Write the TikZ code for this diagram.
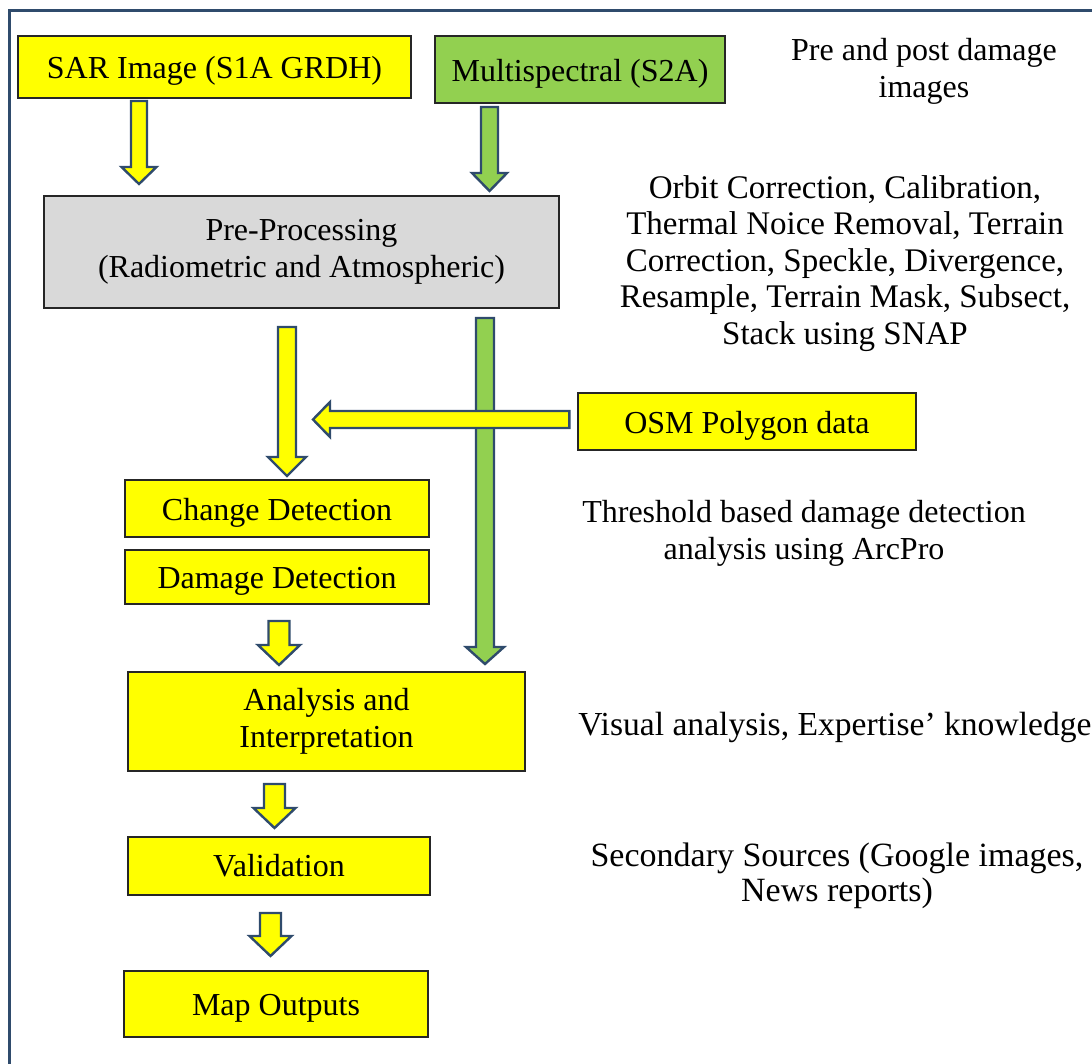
\documentclass[tikz,border=0pt]{standalone}
\usepackage{fontspec}
\setmainfont{Liberation Serif}
\usepackage{xcolor}
\usepackage{tikz}
\usetikzlibrary{calc,positioning}

\definecolor{boxyellow}{HTML}{FFFF00}
\definecolor{boxgreen}{HTML}{92D050}
\definecolor{boxgray}{HTML}{D9D9D9}
\definecolor{arrowline}{HTML}{2F4B6C}

\tikzset{
	box/.style={draw=black!85, line width=0.6pt, inner sep=0pt, align=center},
	lowtext/.style={execute at begin node={\rule{0pt}{15pt}}},
	note/.style={align=center, inner sep=0pt},
	bignote/.style={note, font=\fontsize{16.5}{18.3}\selectfont},
	blk/.style={draw=arrowline, line width=1.2pt, line join=miter},
	frame/.style={draw=arrowline, line width=1.5pt}
}

% block arrow pointing down: fill, start, tip, shaft half width, head half width, head length (px)
\newcommand{\downblk}[6]{%
	\draw[blk, fill=#1] let \p1=(#2), \p2=(#3) in
		(\x2-#4*0.5pt,\y1) -- (\x2+#4*0.5pt,\y1) -- (\x2+#4*0.5pt,\y2+#6*0.5pt)
		-- (\x2+#5*0.5pt,\y2+#6*0.5pt) -- (\x2,\y2) -- (\x2-#5*0.5pt,\y2+#6*0.5pt)
		-- (\x2-#4*0.5pt,\y2+#6*0.5pt) -- cycle;}
% block arrow pointing left
\newcommand{\leftblk}[6]{%
	\draw[blk, fill=#1] let \p1=(#2), \p2=(#3) in
		(\x1,\y2+#4*0.5pt) -- (\x2+#6*0.5pt,\y2+#4*0.5pt) -- (\x2+#6*0.5pt,\y2+#5*0.5pt)
		-- (\x2,\y2) -- (\x2+#6*0.5pt,\y2-#5*0.5pt) -- (\x2+#6*0.5pt,\y2-#4*0.5pt)
		-- (\x1,\y2-#4*0.5pt) -- cycle;}

\begin{document}
\begin{tikzpicture}[x=0.5pt, y=-0.5pt, font=\fontsize{16}{18.4}\selectfont]
	\useasboundingbox (0,0) rectangle (1092,1064);
	\begin{scope}
		\clip (0,0) rectangle (1092,1064);
		\draw[frame] (9,11) rectangle (1110,1090);
	\end{scope}
	%
	\node[box, lowtext, fill=boxyellow, minimum width=196.5pt, minimum height=31pt] (sar) at (214.5,67) {SAR Image (S1A GRDH)};
	\node[box, lowtext, fill=boxgreen, minimum width=145pt, minimum height=33.5pt] (msp) at (580,69.5) {Multispectral (S2A)};
	\node[box, fill=boxgray, minimum width=257.5pt, minimum height=56pt] (pre) at (301.5,252) {Pre-Processing\\(Radiometric and Atmospheric)};
	\node[box, lowtext, fill=boxyellow, minimum width=169pt, minimum height=28.5pt] (osm) at (747,421.5) {OSM Polygon data};
	\node[box, lowtext, fill=boxyellow, minimum width=152pt, minimum height=28.5pt] (chg) at (277,508.5) {Change Detection};
	\node[box, lowtext, fill=boxyellow, minimum width=152pt, minimum height=27pt] (dmg) at (277,577) {Damage Detection};
	\node[box, lowtext, fill=boxyellow, minimum width=198.5pt, minimum height=49.5pt] (ana) at (326.5,721.5) {Analysis and\\Interpretation};
	\node[box, fill=boxyellow, minimum width=151pt, minimum height=29pt] (val) at (279,866) {Validation};
	\node[box, lowtext, fill=boxyellow, minimum width=152pt, minimum height=33pt] (map) at (276,1004) {Map Outputs};
	%
	\node[note] (prepost) at (924,71) {Pre and post damage\\images};
	\node[bignote] (orbit) at (845,263.5) {Orbit Correction, Calibration,\\Thermal Noice Removal, Terrain\\Correction, Speckle, Divergence,\\Resample, Terrain Mask, Subsect,\\Stack using SNAP};
	\node[note] (thresh) at (804,533) {Threshold based damage detection\\analysis using ArcPro};
	\node[bignote, font=\fontsize{16.8}{18.3}\selectfont] (visual) at (835,727) {Visual analysis, Expertise’ knowledge};
	\node[bignote, font=\fontsize{17}{17.2}\selectfont] (second) at (837,876) {Secondary Sources (Google images,\\News reports)};
	%
	\coordinate (a1s) at (139,101);   \coordinate (a1t) at (139,184);
	\coordinate (a2s) at (489.5,107); \coordinate (a2t) at (489.5,191);
	\coordinate (a3s) at (287,327);   \coordinate (a3t) at (287,476);
	\coordinate (a4s) at (485,318);   \coordinate (a4t) at (485,664);
	\coordinate (a5t) at (313,419.5);
	\coordinate (a6s) at (279,621);   \coordinate (a6t) at (279,665);
	\coordinate (a7s) at (274.5,784); \coordinate (a7t) at (274.5,828);
	\coordinate (a8s) at (270.5,913); \coordinate (a8t) at (270.5,956);
	%
	\downblk{boxyellow}{a1s}{a1t}{8}{17.5}{17}
	\downblk{boxgreen}{a2s}{a2t}{8.5}{17.5}{18}
	\downblk{boxyellow}{a3s}{a3t}{9}{19}{19}
	\downblk{boxgreen}{a4s}{a4t}{9}{19}{17}
	\leftblk{boxyellow}{$(osm.west)+(-8,0)$}{a5t}{8.5}{17.5}{17}
	\downblk{boxyellow}{a6s}{a6t}{10.5}{21}{20}
	\downblk{boxyellow}{a7s}{a7t}{10.5}{21}{20}
	\downblk{boxyellow}{a8s}{a8t}{10.5}{21}{20}
\end{tikzpicture}
\end{document}
